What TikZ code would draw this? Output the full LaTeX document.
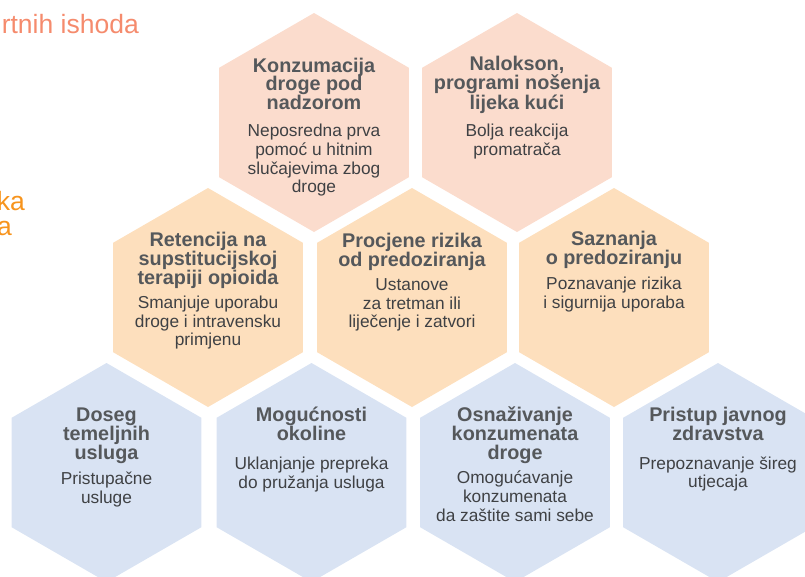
\documentclass[tikz,border=0pt]{standalone}
\usepackage{fontspec}
\setmainfont{Liberation Sans}
\usetikzlibrary{shapes.geometric}
\definecolor{hexA}{HTML}{FBDCCD}
\definecolor{hexB}{HTML}{FDDFBD}
\definecolor{hexC}{HTML}{D9E3F3}
\definecolor{ttl}{HTML}{55585B}
\definecolor{bdy}{HTML}{3F4144}
\definecolor{salmon}{HTML}{F58B6D}
\definecolor{orng}{HTML}{F7941D}
\begin{document}
\begin{tikzpicture}[x=1pt,y=-1pt,
  hex/.style={regular polygon, regular polygon sides=6, shape border rotate=30,
    minimum size=219pt, inner sep=0pt, draw=none},
  ttlnode/.style={anchor=base, align=center, inner sep=0pt, text=ttl,
    font=\fontsize{19.8}{18.7}\selectfont\bfseries},
  bdynode/.style={anchor=base, align=center, inner sep=0pt, text=bdy,
    font=\fontsize{17.3}{18.6}\selectfont},
  sidetxt/.style={anchor=base east, inner sep=0pt, font=\fontsize{26.5}{28}\selectfont}]
\useasboundingbox (0,0) rectangle (805,576);
% left fragments
\node[sidetxt, text=salmon] (s1) at (139,33) {rtnih ishoda};
\node[sidetxt, text=orng] (s2) at (25,210.7) {ka};
\node[sidetxt, text=orng] (s3) at (12,235) {a};
% top row
\node[hex, fill=hexA] (h1) at (314,122.5) {};
\node[hex, fill=hexA] (h2) at (517,122.5) {};
% middle row
\node[hex, fill=hexB] (h3) at (208,297.5) {};
\node[hex, fill=hexB] (h4) at (412,297.5) {};
\node[hex, fill=hexB] (h5) at (614,297.5) {};
% bottom row
\node[hex, fill=hexC] (h6) at (106.5,472.5) {};
\node[hex, fill=hexC] (h7) at (311.5,472.5) {};
\node[hex, fill=hexC] (h8) at (515,472.5) {};
\node[hex, fill=hexC] (h9) at (718,472.5) {};
% texts (anchor = baseline of the last line)
\node[ttlnode] (t1) at (314,109.4) {Konzumacija\\droge pod\\nadzorom};
\node[bdynode] (b1) at (314,192.7) {Neposredna prva\\pomoć u hitnim\\slučajevima zbog\\droge};
\node[ttlnode] (t2) at (517,109.4) {Nalokson,\\programi nošenja\\lijeka kući};
\node[bdynode] (b2) at (517,155) {Bolja reakcija\\promatrača};
\node[ttlnode] (t3) at (208,284.3) {Retencija na\\supstitucijskoj\\terapiji opioida};
\node[bdynode] (b3) at (208,345.7) {Smanjuje uporabu\\droge i intravensku\\primjenu};
\node[ttlnode] (t4) at (412,266) {Procjene rizika\\od predoziranja};
\node[bdynode] (b4) at (412,327.7) {Ustanove\\za tretman ili\\liječenje i zatvori};
\node[ttlnode] (t5) at (614,264) {Saznanja\\o predoziranju};
\node[bdynode] (b5) at (614,308) {Poznavanje rizika\\i sigurnija uporaba};
\node[ttlnode] (t6) at (106.5,459.3) {Doseg\\temeljnih\\usluga};
\node[bdynode] (b6) at (106.5,503.3) {Pristupačne\\usluge};
\node[ttlnode] (t7) at (311.5,440) {Mogućnosti\\okoline};
\node[bdynode] (b7) at (311.5,488.3) {Uklanjanje prepreka\\do pružanja usluga};
\node[ttlnode] (t8) at (515,459.3) {Osnaživanje\\konzumenata\\droge};
\node[bdynode] (b8) at (515,521) {Omogućavanje\\konzumenata\\da zaštite sami sebe};
\node[ttlnode] (t9) at (718,440) {Pristup javnog\\zdravstva};
\node[bdynode] (b9) at (718,487.7) {Prepoznavanje šireg\\utjecaja};
\end{tikzpicture}
\end{document}
